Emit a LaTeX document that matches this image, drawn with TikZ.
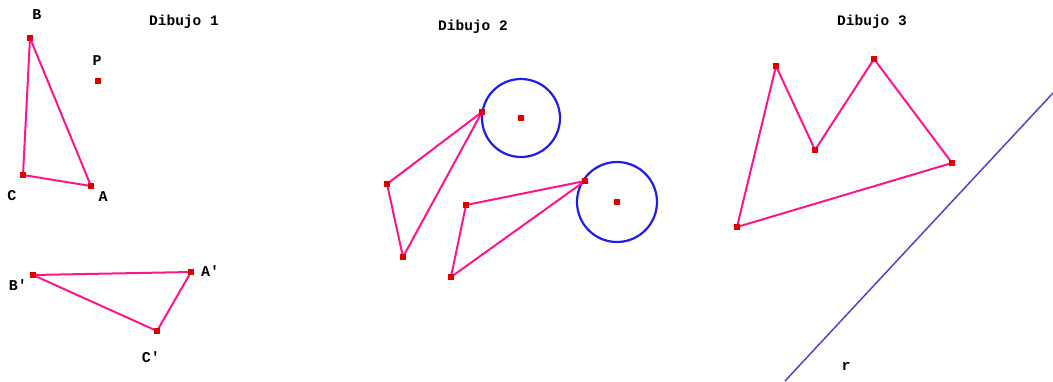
\documentclass[tikz,border=0pt]{standalone}
\usepackage{fontspec}
\setmonofont{Liberation Mono}
\definecolor{seg}{RGB}{255,20,140}
\definecolor{ptred}{RGB}{225,0,0}
\definecolor{circblue}{RGB}{30,30,230}
\definecolor{rline}{RGB}{95,60,200}
\tikzset{
  pt/.style={fill=ptred, draw=none, minimum size=6.5pt, inner sep=0pt, rectangle},
  seg/.style={draw=seg, line width=2pt, line join=round},
  circ/.style={draw=circblue, line width=2.2pt},
  lab/.style={font=\ttfamily\bfseries\fontsize{15}{15}\selectfont, inner sep=0pt},
  title/.style={font=\ttfamily\bfseries\fontsize{14.5}{14.5}\selectfont, inner sep=0pt}
}
\begin{document}
\begin{tikzpicture}[x=1pt,y=-1pt]
\useasboundingbox (0,0) rectangle (1053,381);
% ---------- Dibujo 1
\node[title] (t1) at (184,22) {Dibujo 1};
\coordinate (B) at (30,38);
\coordinate (C) at (23,175);
\coordinate (A) at (91,186);
\coordinate (P) at (98,81);
\draw[seg] (B) -- (C) -- (A) -- cycle;
\node[pt] (nB) at (B) {};
\node[pt] (nC) at (C) {};
\node[pt] (nA) at (A) {};
\node[pt] (nP) at (P) {};
\node[lab] (lB) at (37,15) {B};
\node[lab] (lP) at (97,61) {P};
\node[lab] (lC) at (12,196) {C};
\node[lab] (lA) at (103,197) {A};
\coordinate (B2) at (33,275);
\coordinate (A2) at (191,272);
\coordinate (C2) at (157,331);
\draw[seg] (B2) -- (A2) -- (C2) -- cycle;
\node[pt] (nB2) at (B2) {};
\node[pt] (nA2) at (A2) {};
\node[pt] (nC2) at (C2) {};
\node[lab] (lB2) at (18,285) {B'};
\node[lab] (lA2) at (210,271) {A'};
\node[lab] (lC2) at (151,357) {C'};
% ---------- Dibujo 2
\node[title] (t2) at (473,27) {Dibujo 2};
\coordinate (O1) at (521,118);
\coordinate (O2) at (617,202);
\draw[circ] (O1) circle[radius=39];
\draw[circ] (O2) circle[radius=40];
\coordinate (p1) at (482,112);
\coordinate (p2) at (387,184);
\coordinate (p3) at (403,257);
\coordinate (q1) at (585,181);
\coordinate (q2) at (466,205);
\coordinate (q3) at (451,277);
\draw[seg] (p1) -- (p2) -- (p3) -- cycle;
\draw[seg] (q1) -- (q2) -- (q3) -- cycle;
\foreach \n in {O1,O2,p1,p2,p3,q1,q2,q3} \node[pt] (n\n) at (\n) {};
% ---------- Dibujo 3
\node[title] (t3) at (872,22) {Dibujo 3};
\coordinate (m1) at (737,227);
\coordinate (m2) at (776,66);
\coordinate (m3) at (815,150);
\coordinate (m4) at (874,59);
\coordinate (m5) at (952,163);
\draw[seg] (m1) -- (m2) -- (m3) -- (m4) -- (m5) -- cycle;
\foreach \n in {m1,m2,m3,m4,m5} \node[pt] (n\n) at (\n) {};
\coordinate (r1) at (785,381);
\coordinate (r2) at (1053,93);
\draw[draw=rline, line width=1.5pt] (r1) -- (r2);
\node[lab] (lr) at (846,366) {r};
\end{tikzpicture}
\end{document}
